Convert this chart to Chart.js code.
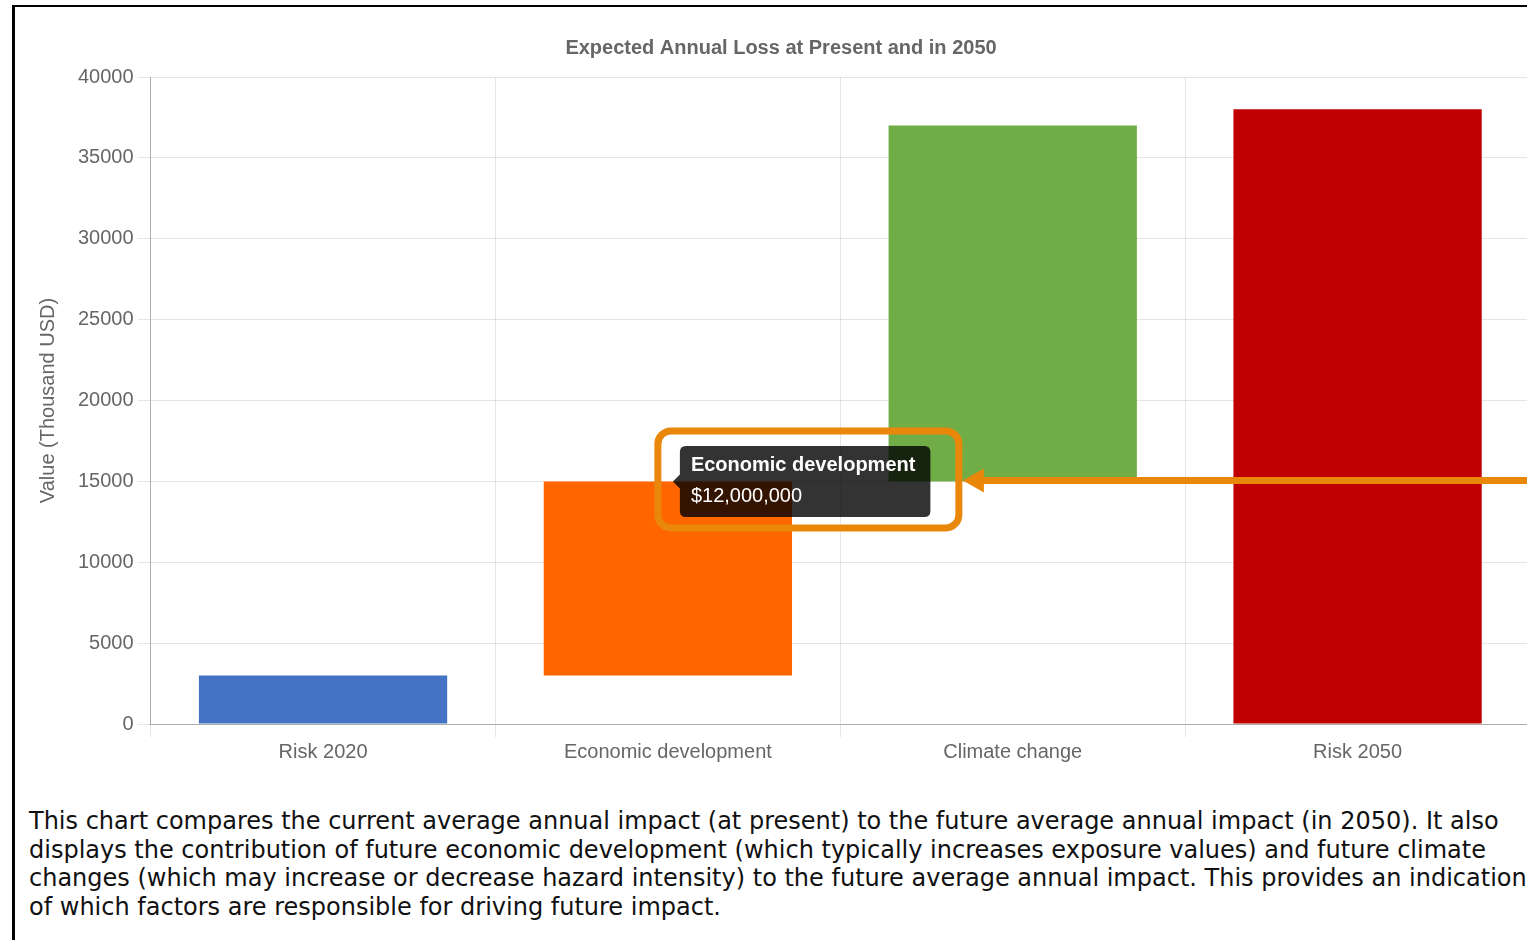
<!DOCTYPE html>
<html>
<head>
<meta charset="utf-8">
<title>Expected Annual Loss at Present and in 2050</title>
<script src="https://cdn.jsdelivr.net/npm/chart.js@4.4.1/dist/chart.umd.min.js"></script>
<style>
    html, body {
        margin: 0;
        padding: 0;
        width: 1527px;
        height: 940px;
        overflow: hidden;
        background: #fff;
    }
    .frame {
        position: absolute;
        left: 12px;
        top: 5px;
        width: 1600px;
        height: 1000px;
        border-left: 3px solid #000;
        border-top: 2px solid #000;
    }
    .chart-box {
        position: absolute;
        left: 32px;
        top: 26px;
        width: 1498px;
        height: 741px;
    }
    .note {
        position: absolute;
        left: 29px;
        top: 807px;
        font-family: "DejaVu Sans", sans-serif;
        font-size: 24px;
        line-height: 28.7px;
        color: #111;
        white-space: nowrap;
    }
</style>
</head>
<body>
<div class="frame"></div>
<div class="chart-box"><canvas id="lossChart"></canvas></div>
<div class="note">
    This chart compares the current average annual impact (at present) to the future average annual impact (in 2050). It also<br>
    displays the contribution of future economic development (which typically increases exposure values) and future climate<br>
    changes (which may increase or decrease hazard intensity) to the future average annual impact. This provides an indication<br>
    of which factors are responsible for driving future impact.
</div>

<script>
// Waterfall steps, values in thousand USD
const categories = ['Risk 2020', 'Economic development', 'Climate change', 'Risk 2050'];
const barStart = [0, 3000, 15000, 0];
const barEnd = [3000, 15000, 37000, 38000];
const barColors = ['#4472C4', '#FF6600', '#70AD47', '#C00000'];
const yTicks = [0, 5000, 10000, 15000, 20000, 25000, 30000, 35000, 40000];

const gridColor = 'rgba(0, 0, 0, 0.1)';
const axisColor = 'rgba(0, 0, 0, 0.25)';
const textColor = '#666';

// Orange callout box + arrow around whatever tooltip is showing
const calloutPlugin = {
    id: 'callout',
    afterDraw(chart) {
        const tip = chart.tooltip;
        if (!tip || !tip.opacity) return;
        const ctx = chart.ctx;
        const left = tip.x - 22;
        const right = tip.x + tip.width + 28.5;
        const top = tip.y - 15;
        const bottom = tip.y + tip.height + 11;
        const arrowY = tip.caretY - 1;
        ctx.save();
        ctx.strokeStyle = '#E9870B';
        ctx.fillStyle = '#E9870B';
        ctx.lineWidth = 7;
        ctx.beginPath();
        ctx.roundRect(left, top, right - left, bottom - top, 13);
        ctx.stroke();

        const tipX = right + 4;
        ctx.beginPath();
        ctx.moveTo(tipX + 18, arrowY);
        ctx.lineTo(chart.width + 10, arrowY);
        ctx.stroke();
        ctx.beginPath();
        ctx.moveTo(tipX, arrowY);
        ctx.lineTo(tipX + 21, arrowY - 12);
        ctx.lineTo(tipX + 21, arrowY + 12);
        ctx.closePath();
        ctx.fill();
        ctx.restore();
    }
};

function initChart() {
    const ctx = document.getElementById('lossChart').getContext('2d');

    Chart.defaults.font.family = '"Liberation Sans", Arial, sans-serif';
    Chart.defaults.font.size = 20;
    Chart.defaults.color = textColor;

    const chart = new Chart(ctx, {
        type: 'bar',
        data: {
            labels: categories,
            datasets: [{
                label: 'Expected Annual Loss',
                data: categories.map((c, i) => [barStart[i], barEnd[i]]),
                backgroundColor: barColors,
                hoverBackgroundColor: barColors,
                borderWidth: 0
            }]
        },
        options: {
            responsive: true,
            maintainAspectRatio: false,
            animation: false,
            events: [],
            layout: { padding: 0 },
            plugins: {
                legend: { display: false },
                title: {
                    display: true,
                    text: 'Expected Annual Loss at Present and in 2050',
                    color: textColor,
                    font: { size: 20, weight: 'bold' },
                    padding: { top: 10, bottom: 17 }
                },
                tooltip: {
                    backgroundColor: 'rgba(0, 0, 0, 0.8)',
                    titleColor: '#fff',
                    bodyColor: '#fff',
                    titleFont: { size: 20, weight: 'bold' },
                    bodyFont: { size: 20 },
                    padding: { top: 8, bottom: 8, left: 11, right: 15 },
                    titleMarginBottom: 7,
                    cornerRadius: 6,
                    caretSize: 7,
                    caretPadding: 5,
                    displayColors: false,
                    xAlign: 'left',
                    yAlign: 'center',
                    callbacks: {
                        label: (item) => {
                            const [from, to] = item.raw;
                            return '$' + ((to - from) * 1000).toLocaleString('en-US');
                        }
                    }
                }
            },
            scales: {
                x: {
                    grid: { color: gridColor, tickColor: gridColor, tickLength: 13 },
                    border: { color: axisColor },
                    ticks: { color: textColor, padding: 3 }
                },
                y: {
                    min: 0,
                    max: 40000,
                    afterBuildTicks: (axis) => {
                        axis.ticks = yTicks.map(v => ({ value: v }));
                    },
                    grid: { color: gridColor, tickColor: gridColor, tickLength: 13 },
                    border: { color: axisColor },
                    ticks: {
                        color: textColor,
                        padding: 4,
                        callback: (v) => String(v)
                    },
                    title: {
                        display: true,
                        text: 'Value (Thousand USD)',
                        color: textColor,
                        font: { size: 20 },
                        padding: { top: 4, bottom: 14 }
                    }
                }
            }
        },
        plugins: [calloutPlugin]
    });

    // show the tooltip for the economic development step
    chart.tooltip.setActiveElements([{ datasetIndex: 0, index: 1 }], { x: 0, y: 0 });
    chart.update();
}

document.addEventListener('DOMContentLoaded', initChart);
</script>
</body>
</html>
